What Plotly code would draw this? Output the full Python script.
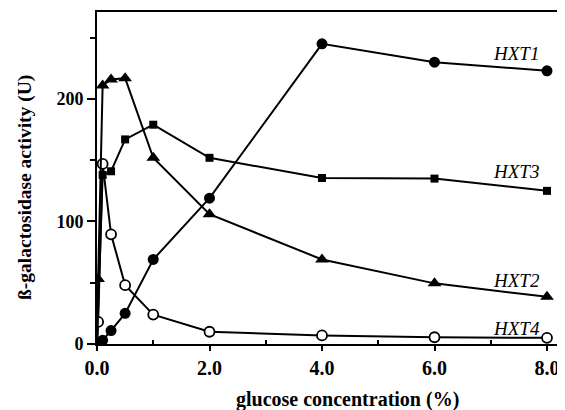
import plotly.graph_objects as go

# data (glucose %, beta-galactosidase U)
x_hxt1 = [0, 0.1, 0.25, 0.5, 1.0, 2.0, 4.0, 6.0, 8.0]
y_hxt1 = [0, 3, 11, 25, 69, 119, 245, 230, 223]

x_hxt3 = [0, 0.1, 0.25, 0.5, 1.0, 2.0, 4.0, 6.0, 8.0]
y_hxt3 = [0, 138, 141, 167, 179, 152, 135.5, 135, 125]

x_hxt2 = [0, 0.02, 0.1, 0.25, 0.5, 1.0, 2.0, 4.0, 6.0, 8.0]
y_hxt2 = [0, 53, 211, 216, 217, 152, 106, 69, 49.5, 38.5]

x_hxt4 = [0, 0.02, 0.1, 0.25, 0.5, 1.0, 2.0, 4.0, 6.0, 8.0]
y_hxt4 = [0, 18, 147, 89.5, 48, 24, 10, 7, 5.5, 5]

series_names = ["HXT1", "HXT3", "HXT2", "HXT4"]
label_x = [7.45, 7.45, 7.45, 7.45]
label_y = [237, 141, 52, 13]

x_ticks = [0, 2, 4, 6, 8]
x_tick_text = ["0.0", "2.0", "4.0", "6.0", "8.0"]
y_ticks = [0, 100, 200]

x_title = "glucose concentration (%)"
y_title = "ß-galactosidase activity (U)"

FONT = "Liberation Serif, Times New Roman, serif"

fig = go.Figure()
line = dict(color="black", width=2)
fig.add_trace(go.Scatter(x=x_hxt4, y=y_hxt4, mode="lines+markers", line=line,
                         marker=dict(symbol="circle", size=10, color="white",
                                     line=dict(color="black", width=1.8))))
fig.add_trace(go.Scatter(x=x_hxt2, y=y_hxt2, mode="lines+markers", line=line,
                         marker=dict(symbol="triangle-up", size=12, color="black")))
fig.add_trace(go.Scatter(x=x_hxt3, y=y_hxt3, mode="lines+markers", line=line,
                         marker=dict(symbol="square", size=8, color="black")))
fig.add_trace(go.Scatter(x=x_hxt1, y=y_hxt1, mode="lines+markers", line=line,
                         marker=dict(symbol="circle", size=11, color="black")))

for name, lx, ly in zip(series_names, label_x, label_y):
    fig.add_annotation(x=lx, y=ly, text="<i>%s</i>" % name, showarrow=False,
                       font=dict(family=FONT, size=19, color="black"))

# axis titles placed in paper coordinates (plot area on screen: x 97..565 px, y 12..344 px)
fig.add_annotation(x=(347 - 97) / 468, y=(344 - 399) / 332, xref="paper", yref="paper",
                   text=x_title, showarrow=False, xanchor="center", yanchor="middle",
                   font=dict(family=FONT, size=20, color="black", weight="bold"))
fig.add_annotation(x=(25 - 97) / 468, y=(344 - 188) / 332, xref="paper", yref="paper",
                   text=y_title, showarrow=False, textangle=-90,
                   xanchor="center", yanchor="middle",
                   font=dict(family=FONT, size=19.5, color="black", weight="bold"))

# the page body adds an 8px offset, so margins are shifted to compensate
fig.update_layout(
    width=565, height=410,
    margin=dict(l=89, r=8, t=4, b=74, autoexpand=False),
    paper_bgcolor="white", plot_bgcolor="white",
    showlegend=False,
    font=dict(family=FONT, color="black"),
)
fig.update_xaxes(
    range=[0, 8.32], showgrid=False, zeroline=False, automargin=False,
    showline=True, linecolor="black", linewidth=2, mirror=True,
    tickmode="array", tickvals=x_ticks, ticktext=x_tick_text,
    ticks="outside", ticklen=5, tickwidth=1.5, tickcolor="black",
    tickfont=dict(family=FONT, size=20, color="black", weight="bold"),
    minor=dict(tickvals=[1, 3, 5, 7], ticks="inside", ticklen=4, tickwidth=1.5, tickcolor="black"),
)
fig.update_yaxes(
    range=[0, 271], showgrid=False, zeroline=False, automargin=False,
    showline=True, linecolor="black", linewidth=2,
    tickmode="array", tickvals=y_ticks,
    ticks="outside", ticklen=8, tickwidth=1.5, tickcolor="black",
    tickfont=dict(family=FONT, size=18, color="black", weight="bold"),
    minor=dict(tickvals=[50, 150, 250], ticks="outside", ticklen=5, tickwidth=1.5, tickcolor="black"),
)

fig.write_html("out.html")
